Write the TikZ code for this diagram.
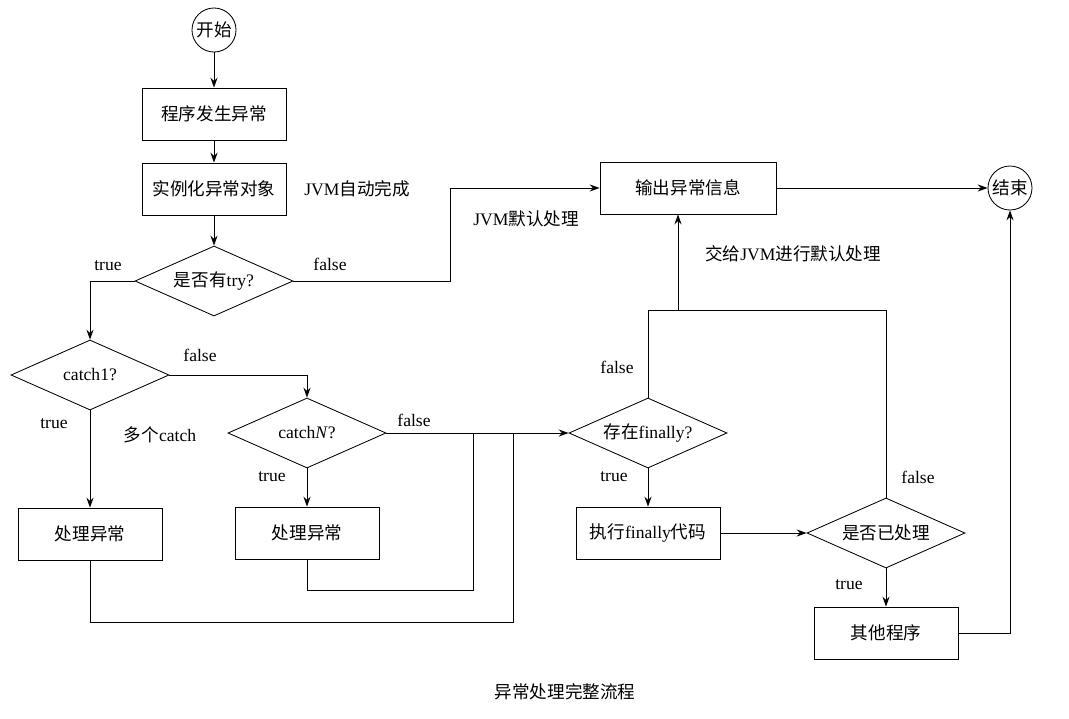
\documentclass[tikz,border=0pt]{standalone}
\usepackage{fontspec}
\setmainfont{Liberation Serif}
\newfontfamily\cjk{Noto Sans CJK SC}
\usetikzlibrary{shapes.geometric,positioning,arrows.meta}

\begin{document}
\begin{tikzpicture}[
        x=0.025cm, y=-0.025cm,
        font=\fontsize{12.5}{14}\selectfont,
        box/.style={rectangle, draw, minimum width=3.6cm, minimum height=1.3cm},
        term/.style={circle, draw, minimum size=1.1cm, inner sep=0pt},
        cond/.style={diamond, draw, minimum width=3.95cm, minimum height=1.75cm, inner sep=0pt, aspect=2.2},
        lbl/.style={inner sep=1pt},
        >={Stealth[length=7pt,width=5pt]},
        semithick
    ]
        \useasboundingbox (0,0) rectangle (1069,718);

        \node[term] (start) at (214,30) {\cjk 开始};
        \node[box] (occur) at (214,114) {\cjk 程序发生异常};
        \node[box] (inst) at (214,189) {\cjk 实例化异常对象};
        \node[cond] (try) at (214,281) {{\cjk 是否有}try?};
        \node[cond] (c1) at (90,375) {catch1?};
        \node[cond] (cn) at (307,433) {catch\emph{N}?};
        \node[box] (h1) at (90,534) {\cjk 处理异常};
        \node[box] (h2) at (307,533) {\cjk 处理异常};
        \node[cond] (fin) at (648,433) {{\cjk 存在}finally?};
        \node[box] (runf) at (648,533) {{\cjk 执行}finally{\cjk 代码}};
        \node[cond] (done) at (886,533) {\cjk 是否已处理};
        \node[box] (other) at (886,633) {\cjk 其他程序};
        \node[box, minimum width=4.4cm] (out) at (688,188) {\cjk 输出异常信息};
        \node[term] (stop) at (1010,188) {\cjk 结束};

        % labels
        \node[lbl] at (357,189) {JVM{\cjk 自动完成}};
        \node[lbl] at (526,219) {JVM{\cjk 默认处理}};
        \node[lbl] at (793,254) {{\cjk 交给}JVM{\cjk 进行默认处理}};
        \node[lbl] at (108,266) {true};
        \node[lbl] at (330,264) {false};
        \node[lbl] at (200,355) {false};
        \node[lbl] at (54,424) {true};
        \node[lbl] at (160,435) {{\cjk 多个}catch};
        \node[lbl] at (414,420) {false};
        \node[lbl] at (272,477) {true};
        \node[lbl] at (617,367) {false};
        \node[lbl] at (614,477) {true};
        \node[lbl] at (918,477) {false};
        \node[lbl] at (849,585) {true};
        \node[lbl] (cap) at (565,692) {\cjk 异常处理完整流程};

        % bend points
        \coordinate (tj) at (450,281);
        \coordinate (m1) at (513,622);
        \coordinate (m2) at (473,590);
        \coordinate (up) at (678,310);
        \coordinate (oc) at (1010,633);

        \draw[->] (start) -- (occur);
        \draw[->] (occur) -- (inst);
        \draw[->] (inst) -- (try);
        \draw[->] (try.west) -| (c1.north);
        \draw[->] (try.east) -- (tj) |- (out.west);
        \draw[->] (c1.east) -| (cn.north);
        \draw[->] (c1) -- (h1);
        \draw[->] (cn) -- (h2);
        \draw[->] (cn.east) -- (fin.west);
        \draw (h1.south) |- (m1) -- (m1 |- cn.east);
        \draw (h2.south) |- (m2) -- (m2 |- cn.east);
        \draw (fin.north) |- (up);
        \draw (done.north) |- (up);
        \draw[->] (up) -- (up |- out.south);
        \draw[->] (fin) -- (runf);
        \draw[->] (runf) -- (done);
        \draw[->] (done) -- (other);
        \draw[->] (other.east) -- (oc) -- (stop.south);
        \draw[->] (out) -- (stop);
\end{tikzpicture}
\end{document}
